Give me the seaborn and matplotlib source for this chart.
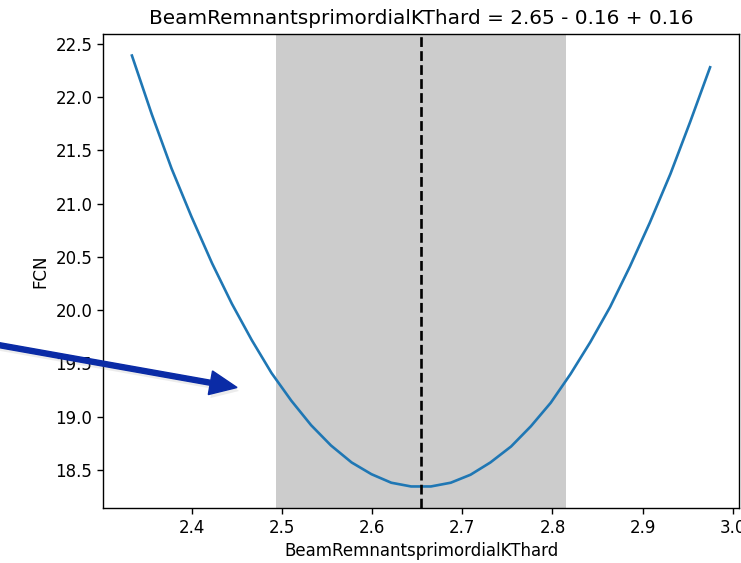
import matplotlib
matplotlib.use("Agg")
import matplotlib.pyplot as plt
import matplotlib.patches as mpatches
import matplotlib.patheffects as pe
from matplotlib.transforms import IdentityTransform
import seaborn as sns
import pandas as pd

# ---- data ----
param_values = [2.333, 2.355, 2.377, 2.399, 2.422, 2.444, 2.466, 2.488, 2.510, 2.532,
                2.554, 2.577, 2.599, 2.621, 2.643, 2.665, 2.687, 2.709, 2.731, 2.754,
                2.776, 2.798, 2.820, 2.842, 2.864, 2.886, 2.908, 2.931, 2.953, 2.975]
fcn_values = [22.39, 21.84, 21.33, 20.88, 20.44, 20.06, 19.72, 19.41, 19.15, 18.92,
              18.73, 18.57, 18.46, 18.38, 18.345, 18.345, 18.38, 18.455, 18.57, 18.72,
              18.91, 19.13, 19.40, 19.70, 20.03, 20.41, 20.82, 21.28, 21.77, 22.28]
best_value = 2.6535
err_low = 0.1602
err_high = 0.1620
param_name = "BeamRemnantsprimordialKThard"

df = pd.DataFrame({"x": param_values, "FCN": fcn_values})

W, H = 741, 563
fig = plt.figure(figsize=(W / 100, H / 100), dpi=100)
ax = fig.add_axes([103 / W, 1 - 508 / H, (739 - 103) / W, (508 - 34) / H])

ax.axvspan(best_value - err_low, best_value + err_high, color="#cccccc", lw=0, zorder=0)
sns.lineplot(data=df, x="x", y="FCN", ax=ax, color="#1f77b4", linewidth=1.9, zorder=2)
ax.axvline(best_value, color="black", linestyle="--", linewidth=1.9, zorder=3)

ax.margins(x=0.05, y=0.05)
ax.set_xticks([2.4, 2.5, 2.6, 2.7, 2.8, 2.9, 3.0])
ax.set_xticklabels(["2.4", "2.5", "2.6", "2.7", "2.8", "2.9", "3.0"])
ax.set_yticks([18.5, 19.0, 19.5, 20.0, 20.5, 21.0, 21.5, 22.0, 22.5])
ax.set_yticklabels(["18.5", "19.0", "19.5", "20.0", "20.5", "21.0", "21.5", "22.0", "22.5"])
ax.tick_params(labelsize=12, length=4.2, width=1.0)
for s in ax.spines.values():
    s.set_linewidth(1.0)
ax.set_xlabel(param_name, fontsize=12)
ax.set_ylabel("FCN", fontsize=12)
ax.set_title(f"{param_name} = {best_value:.2f} - {err_low:.2f} + {err_high:.2f}",
             fontsize=14.4, pad=7)

# overlay annotation arrow (pixel coordinates, origin bottom-left)
x0, y0 = -10, H - 343.5
x1, y1 = 237, H - 387.5
arrow = mpatches.FancyArrow(x0, y0, x1 - x0, y1 - y0, width=5, head_width=24,
                            head_length=27, length_includes_head=True,
                            color="#0a2ba6", transform=IdentityTransform())
arrow.set_path_effects([pe.SimplePatchShadow(offset=(1.5, -2.5), shadow_rgbFace="#999999", alpha=0.18),
                        pe.Normal()])
fig.add_artist(arrow)

fig.savefig("out.png", dpi=100)
